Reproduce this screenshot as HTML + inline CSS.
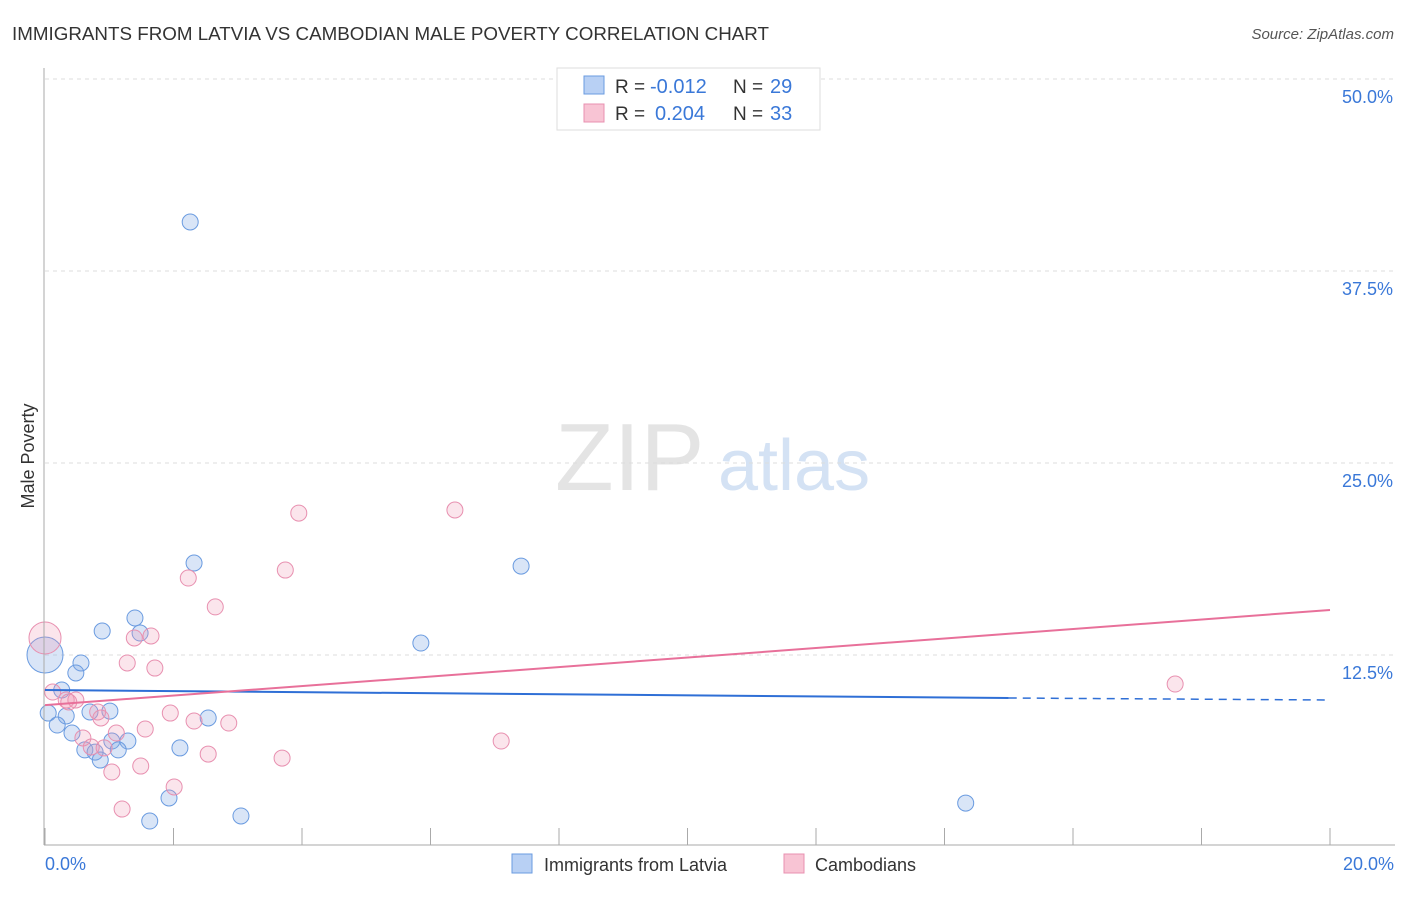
<!DOCTYPE html>
<html><head><meta charset="utf-8"><style>
body{margin:0;background:#fff;font-family:"Liberation Sans",sans-serif;}
svg text{font-family:"Liberation Sans",sans-serif;}
</style></head><body>
<svg id="chart" width="1406" height="892">
<text x="12" y="40" font-size="18.5" fill="#333" textLength="757" lengthAdjust="spacingAndGlyphs">IMMIGRANTS FROM LATVIA VS CAMBODIAN MALE POVERTY CORRELATION CHART</text>
<text x="1394" y="39" font-size="15" fill="#555" font-style="italic" text-anchor="end">Source: ZipAtlas.com</text>
<text x="555" y="490" font-size="96" fill="#e4e4e4" font-family="Liberation Serif">ZIP</text>
<text x="718" y="490" font-size="72" fill="#d4e2f4">atlas</text>
<text transform="translate(34,456) rotate(-90)" font-size="18" fill="#333" text-anchor="middle">Male Poverty</text>
<g id="grid"></g><g id="ticks"></g><g id="pts"></g><g id="lines"></g>
<line x1="44" y1="68" x2="44" y2="845" stroke="#aaa"/>
<line x1="44" y1="845" x2="1395" y2="845" stroke="#aaa"/>
<text x="45" y="870" font-size="18" fill="#3a78d8">0.0%</text>
<text x="1394" y="870" font-size="18" fill="#3a78d8" text-anchor="end">20.0%</text>
<g>
<rect x="557" y="68" width="263" height="62" fill="#fff" stroke="#ddd"/>
<rect x="584" y="76" width="20" height="18" fill="#b8d0f4" stroke="#6a9be0"/>
<rect x="584" y="104" width="20" height="18" fill="#f8c4d4" stroke="#e890b0"/>
<text x="615" y="93" font-size="19" fill="#333">R =</text>
<text x="650" y="93" font-size="20" fill="#3a78d8">-0.012</text>
<text x="733" y="93" font-size="19" fill="#333">N =</text>
<text x="770" y="93" font-size="20" fill="#3a78d8">29</text>
<text x="615" y="120" font-size="19" fill="#333">R =</text>
<text x="655" y="120" font-size="20" fill="#3a78d8">0.204</text>
<text x="733" y="120" font-size="19" fill="#333">N =</text>
<text x="770" y="120" font-size="20" fill="#3a78d8">33</text>
</g>
<g>
<rect x="512" y="854" width="20" height="19" fill="#b8d0f4" stroke="#6a9be0"/>
<text x="544" y="871" font-size="18" fill="#333">Immigrants from Latvia</text>
<rect x="784" y="854" width="20" height="19" fill="#f8c4d4" stroke="#e890b0"/>
<text x="815" y="871" font-size="18" fill="#333">Cambodians</text>
</g>
</svg>
<script>
const yTicks=[12.5,25,37.5,50];
const yTickLabels=["12.5%","25.0%","37.5%","50.0%"];
const xTicks=[0,2,4,6,8,10,12,14,16,18,20];
const blueX=[2.26,2.32,7.41,5.85,1.40,1.48,0.89,0.56,0.48,0.26,0.05,0.33,0.19,0.42,0.70,1.01,2.54,1.29,1.04,0.62,0.78,1.14,0.86,2.10,1.93,1.63,3.05,14.33,0];
const blueY=[40.69,18.49,18.29,13.28,14.91,13.93,14.06,11.98,11.33,10.22,8.72,8.53,7.94,7.42,8.79,8.85,8.40,6.90,6.90,6.32,6.18,6.32,5.66,6.45,3.19,1.69,2.02,2.86,12.5];
const blueR=[8,8,8,8,8,8,8,8,8,8,8,8,8,8,8,8,8,8,8,8,8,8,8,8,8,8,8,8,18];
const pinkX=[3.95,6.38,3.74,2.23,2.65,1.39,1.65,1.28,1.71,0.12,0.33,0.48,0.82,0.87,1.95,2.32,2.86,1.56,1.11,0.59,0.72,0.92,2.54,3.69,1.49,1.04,2.01,1.20,7.10,17.59,0,0.37];
const pinkY=[21.74,21.94,18.03,17.51,15.63,13.61,13.74,11.98,11.65,10.09,9.57,9.57,8.79,8.40,8.72,8.20,8.07,7.68,7.42,7.10,6.51,6.45,6.05,5.79,5.27,4.88,3.91,2.47,6.90,10.61,13.61,9.44];
const pinkR=[8,8,8,8,8,8,8,8,8,8,8,8,8,8,8,8,8,8,8,8,8,8,8,8,8,8,8,8,8,8,16,8];
const blueTrend=[10.22,9.70,9.57];
const blueTrendX=[0,15,20];
const pinkTrend=[9.24,15.43];
const pinkTrendX=[0,20];
const NS="http://www.w3.org/2000/svg";
const X=v=>45+v*64.25, Y=v=>847-v*15.36;
function mk(t,a,p){const e=document.createElementNS(NS,t);for(const k in a)e.setAttribute(k,a[k]);document.getElementById(p).appendChild(e);return e;}
yTicks.forEach((t,i)=>{
 const l=mk('line',{x1:45,x2:1395,y1:Y(t),y2:Y(t),stroke:'#ddd','stroke-dasharray':'4,4'},'grid');
 
 
 const tx=mk('text',{x:1393,y:Y(t)+24,'font-size':18,fill:'#3a78d8','text-anchor':'end'},'grid');
 tx.textContent=yTickLabels[i];
 
 
});
xTicks.forEach(t=>{
 const l=mk('line',{x1:X(t),x2:X(t),y1:828,y2:845,stroke:'#aaa'},'ticks');
 
 
});
blueX.forEach((v,i)=>{
 const c=mk('circle',{cx:X(v),cy:Y(blueY[i]),r:blueR[i],fill:'rgba(130,170,230,0.3)',stroke:'#6a9be0','stroke-width':1},'pts');
 
 
});
pinkX.forEach((v,i)=>{
 const c=mk('circle',{cx:X(v),cy:Y(pinkY[i]),r:pinkR[i],fill:'rgba(240,150,180,0.25)',stroke:'#e890b0','stroke-width':1},'pts');
 
 
});
let b1=mk('line',{x1:X(blueTrendX[0]),y1:Y(blueTrend[0]),x2:X(blueTrendX[1]),y2:Y(blueTrend[1]),stroke:'#2f6fd6','stroke-width':2},'lines');


let b2=mk('line',{x1:X(blueTrendX[1]),y1:Y(blueTrend[1]),x2:X(blueTrendX[2]),y2:Y(blueTrend[2]),stroke:'#2f6fd6','stroke-width':1.5,'stroke-dasharray':'8,6'},'lines');


let p1=mk('line',{x1:X(pinkTrendX[0]),y1:Y(pinkTrend[0]),x2:X(pinkTrendX[1]),y2:Y(pinkTrend[1]),stroke:'#e8709a','stroke-width':2},'lines');


</script>
</body></html>
